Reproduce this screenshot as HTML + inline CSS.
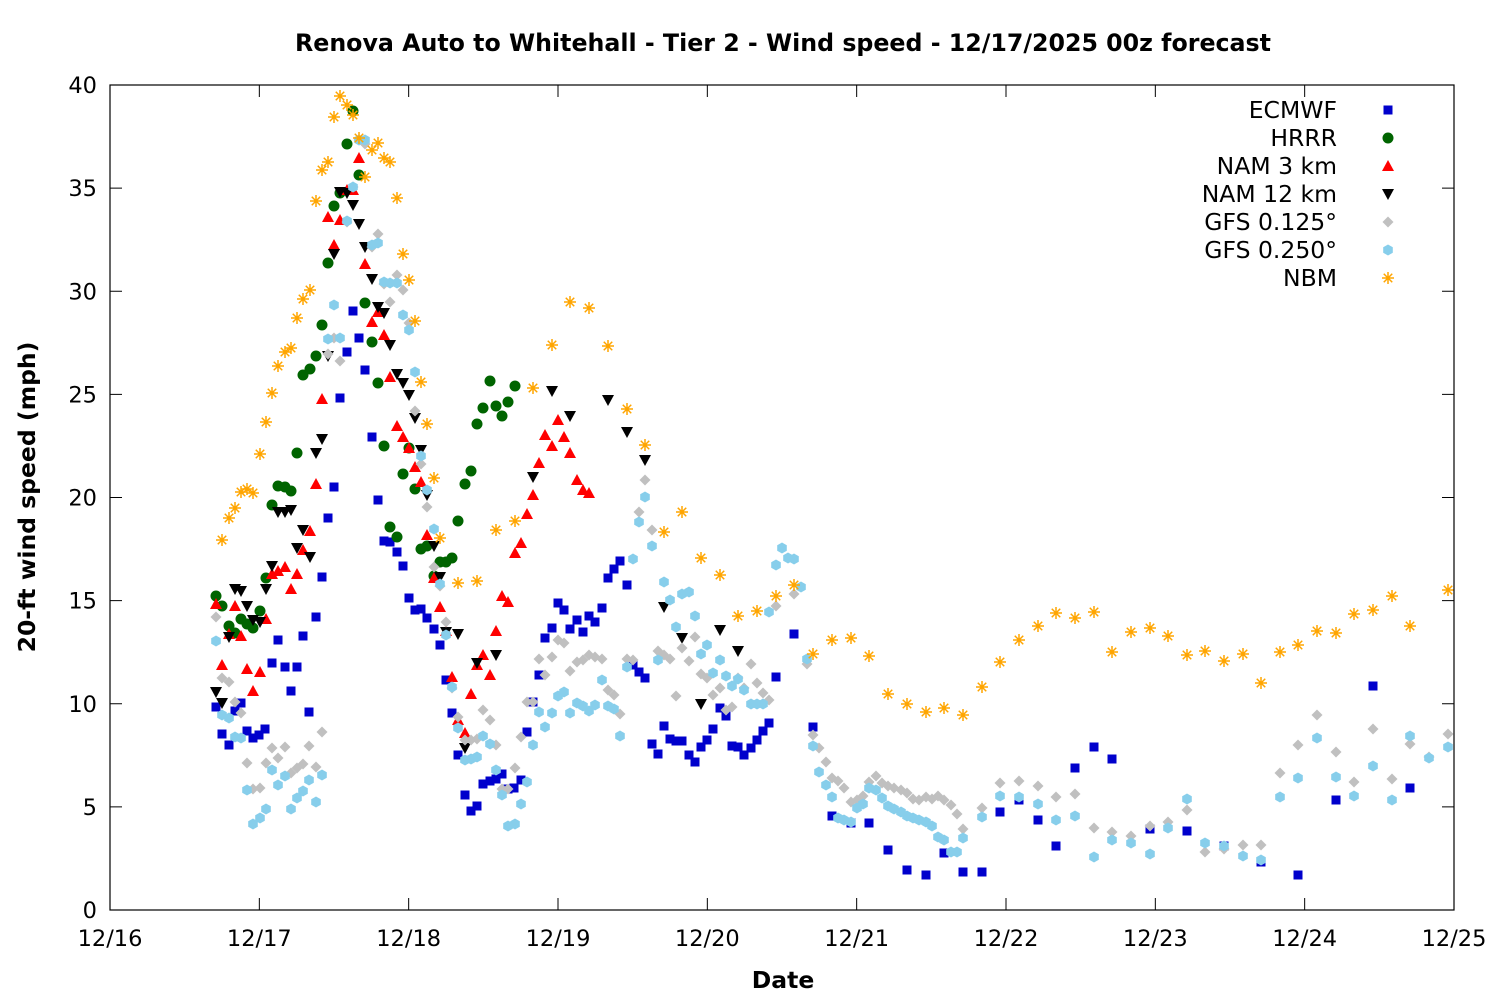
<!DOCTYPE html>
<html><head><meta charset="utf-8"><style>
html,body{margin:0;padding:0;background:#fff;}
svg{display:block;font-family:"DejaVu Sans","Liberation Sans",sans-serif;}
</style></head><body>
<svg id="s" width="1500" height="1000" xmlns="http://www.w3.org/2000/svg">
<rect width="1500" height="1000" fill="#fff"/>
<text x="783" y="51" font-size="23.7" font-weight="bold" text-anchor="middle">Renova Auto to Whitehall - Tier 2 - Wind speed - 12/17/2025 00z forecast</text>
<text x="783" y="988" font-size="23.5" font-weight="bold" text-anchor="middle">Date</text>
<text transform="translate(35,497) rotate(-90)" font-size="23.5" font-weight="bold" text-anchor="middle">20-ft wind speed (mph)</text>
<g id="axes"></g>
<g id="pts"></g>
<rect x="110" y="85" width="1344" height="825" fill="none" stroke="#000" stroke-width="1.2"/>
<g font-size="23.5" text-anchor="end">
<text x="1337" y="118">ECMWF</text>
<text x="1337" y="146">HRRR</text>
<text x="1337" y="174">NAM 3 km</text>
<text x="1337" y="202">NAM 12 km</text>
<text x="1337" y="230">GFS 0.125°</text>
<text x="1337" y="258">GFS 0.250°</text>
<text x="1337" y="286">NBM</text>
</g>
<g id="leg"></g>
</svg>
<script>
var NS="http://www.w3.org/2000/svg";
function el(p,t,a){var e=document.createElementNS(NS,t);for(var k in a)e.setAttribute(k,a[k]);p.appendChild(e);return e;}
var ax=document.getElementById("axes");
for(var i=0;i<=8;i++){var y=910-i*103.125;
 el(ax,"line",{x1:110,y1:y,x2:122,y2:y,stroke:"#000"});el(ax,"line",{x1:1454,y1:y,x2:1442,y2:y,stroke:"#000"});
 var t=el(ax,"text",{x:97,y:y+8,"font-size":22.5,"text-anchor":"end"});t.textContent=i*5;}
var days=["12/16","12/17","12/18","12/19","12/20","12/21","12/22","12/23","12/24","12/25"];
for(var i=0;i<=9;i++){var x=110+i*149.333;
 el(ax,"line",{x1:x,y1:910,x2:x,y2:898,stroke:"#000"});el(ax,"line",{x1:x,y1:85,x2:x,y2:97,stroke:"#000"});
 var t=el(ax,"text",{x:x,y:946,"font-size":22.5,"text-anchor":"middle"});t.textContent=days[i];}
function P(s){var a=s.match(/-?\d+/g).map(Number),r=[];for(var i=0;i<a.length;i+=2)r.push([a[i],a[i+1]]);return r;}
var D={
ec:P("(216,707),(222,734),(229,745),(235,711),(241,703),(247,731),(253,738),(259,735),(265,729),(272,663),(278,640),(285,667),(291,691),(297,667),(303,636),(309,712),(316,617),(322,577),(328,518),(334,487),(340,398),(347,352),(353,311),(359,338),(365,370),(372,437),(378,500),(384,541),(390,542),(397,552),(403,566),(409,598),(415,610),(421,609),(427,618),(434,629),(440,645),(446,680),(452,713),(458,755),(465,795),(471,811),(477,806),(483,784),(490,781),(496,779),(502,774),(508,789),(514,788),(521,780),(527,732),(533,702),(539,675),(545,638),(552,628),(558,603),(564,610),(570,629),(577,620),(583,632),(589,616),(595,622),(602,608),(608,578),(614,569),(620,561),(627,585),(633,665),(639,672),(645,678),(652,744),(658,754),(664,726),(670,739),(676,741),(682,741),(689,755),(695,762),(701,747),(707,740),(713,729),(720,708),(726,716),(732,746),(738,747),(744,755),(751,748),(757,740),(763,731),(769,723),(776,677),(794,634),(813,727),(832,816),(851,823),(869,823),(888,850),(907,870),(926,875),(944,853),(963,872),(982,872),(1000,812),(1019,800),(1038,820),(1056,846),(1075,768),(1094,747),(1112,759),(1150,829),(1187,831),(1224,846),(1261,862),(1298,875),(1336,800),(1373,686),(1410,788)"),
hr:P("(216,596),(222,606),(229,626),(235,633),(241,619),(247,624),(253,628),(260,611),(266,578),(272,505),(278,486),(285,487),(291,491),(297,453),(303,375),(310,369),(316,356),(322,325),(328,263),(334,206),(340,193),(347,144),(353,111),(359,175),(365,303),(372,342),(378,383),(384,446),(390,527),(397,537),(403,474),(409,448),(415,489),(421,549),(427,546),(434,576),(440,562),(446,562),(452,558),(458,521),(465,484),(471,471),(477,424),(483,408),(490,381),(496,406),(502,416),(508,402),(515,386)"),
n3:P("(216,604),(222,665),(229,634),(235,606),(241,636),(247,669),(253,691),(260,672),(266,619),(272,574),(278,571),(285,567),(291,589),(297,574),(303,550),(310,531),(316,484),(322,399),(328,217),(334,245),(340,220),(347,190),(353,190),(359,158),(365,264),(372,322),(378,312),(384,335),(390,377),(397,426),(403,437),(409,448),(415,467),(421,482),(427,535),(434,578),(440,607),(446,631),(452,677),(458,720),(465,733),(471,694),(477,665),(483,655),(490,675),(496,631),(502,596),(508,602),(515,553),(521,543),(527,514),(533,495),(539,463),(545,435),(552,446),(558,420),(564,437),(570,453),(577,480),(583,490),(589,493)"),
n12:P("(216,692),(222,703),(229,637),(235,589),(241,591),(247,606),(253,620),(260,622),(266,589),(272,566),(278,512),(285,512),(291,510),(297,548),(303,530),(310,557),(316,453),(322,439),(328,356),(334,254),(340,192),(347,193),(353,205),(359,224),(365,247),(372,279),(378,307),(384,313),(390,345),(397,374),(403,383),(409,395),(415,418),(421,450),(427,495),(434,546),(440,577),(446,632),(458,634),(465,748),(477,663),(496,655),(533,477),(552,391),(570,416),(608,400),(627,432),(645,460),(664,607),(682,638),(701,704),(720,630),(738,651)"),
g1:P("(216,617),(222,678),(229,682),(235,702),(241,713),(247,763),(253,789),(260,788),(266,763),(272,748),(278,758),(285,747),(291,773),(297,768),(303,764),(309,746),(316,767),(322,732),(328,354),(334,338),(340,361),(347,222),(353,187),(359,140),(365,144),(372,247),(378,234),(384,284),(390,302),(397,275),(403,290),(409,323),(415,411),(421,464),(427,507),(434,567),(440,586),(446,622),(452,688),(458,717),(465,740),(471,740),(477,739),(483,710),(490,720),(496,745),(502,789),(508,789),(515,768),(521,737),(527,702),(533,702),(539,659),(545,675),(552,657),(558,640),(564,643),(570,671),(577,662),(583,660),(589,655),(595,657),(602,659),(608,690),(614,695),(620,714),(627,659),(633,660),(639,512),(645,480),(652,530),(658,651),(664,655),(670,659),(676,696),(682,648),(689,661),(695,637),(701,674),(707,678),(713,695),(720,688),(726,710),(732,707),(738,678),(744,688),(751,664),(757,683),(763,693),(769,700),(776,606),(794,594),(807,664),(813,735),(819,748),(826,762),(832,778),(838,781),(844,788),(851,802),(857,800),(863,796),(869,782),(876,776),(882,783),(888,786),(894,788),(901,790),(907,793),(913,799),(919,800),(926,797),(932,799),(938,796),(944,800),(951,805),(957,814),(963,829),(982,808),(1000,783),(1019,781),(1038,786),(1056,797),(1075,794),(1094,828),(1112,832),(1131,836),(1150,826),(1168,822),(1187,810),(1205,852),(1224,849),(1243,845),(1261,845),(1280,773),(1298,745),(1317,715),(1336,752),(1354,782),(1373,729),(1392,779),(1410,744),(1429,757),(1448,734)"),
g2:P("(216,641),(222,715),(229,718),(235,737),(241,738),(247,790),(253,824),(260,818),(266,809),(272,770),(278,785),(285,776),(291,809),(297,798),(303,791),(309,780),(316,802),(322,775),(328,339),(334,305),(340,338),(347,221),(353,187),(359,140),(365,140),(372,245),(378,243),(384,282),(390,283),(397,283),(403,315),(409,330),(415,372),(421,456),(427,490),(434,529),(440,584),(446,635),(452,687),(458,728),(465,760),(471,759),(477,757),(483,736),(490,744),(496,770),(502,795),(508,826),(515,824),(521,804),(527,782),(533,745),(539,712),(545,727),(552,713),(558,696),(564,692),(570,713),(577,703),(583,706),(589,711),(595,705),(602,680),(608,706),(614,709),(620,736),(627,667),(633,559),(639,522),(645,497),(652,546),(658,660),(664,582),(670,600),(676,627),(682,594),(689,592),(695,616),(701,654),(707,645),(713,673),(720,660),(726,676),(732,686),(738,679),(744,690),(751,704),(757,704),(763,704),(769,612),(776,565),(782,548),(788,558),(794,559),(801,587),(807,659),(813,746),(819,772),(826,785),(832,797),(838,818),(844,820),(851,822),(857,808),(863,804),(869,788),(876,790),(882,798),(888,806),(894,809),(901,812),(907,816),(913,818),(919,820),(926,822),(932,826),(938,837),(944,840),(951,852),(957,852),(963,838),(982,817),(1000,796),(1019,797),(1038,804),(1056,820),(1075,816),(1094,857),(1112,840),(1131,843),(1150,854),(1168,828),(1187,799),(1205,843),(1224,846),(1243,856),(1261,860),(1280,797),(1298,778),(1317,738),(1336,777),(1354,796),(1373,766),(1392,800),(1410,736),(1429,758),(1448,747)"),
nb:P("(222,540),(229,518),(235,508),(241,492),(247,489),(253,493),(260,454),(266,422),(272,393),(278,366),(285,352),(291,348),(297,318),(303,299),(310,290),(316,201),(322,170),(328,162),(334,117),(340,96),(347,105),(353,115),(359,138),(365,177),(372,150),(378,143),(384,158),(390,162),(397,198),(403,254),(409,280),(415,321),(421,382),(427,424),(434,478),(440,538),(458,583),(477,581),(496,530),(515,521),(533,388),(552,345),(570,302),(589,308),(608,346),(627,409),(645,445),(664,532),(682,512),(701,558),(720,575),(738,616),(757,611),(776,596),(794,585),(813,654),(832,640),(851,638),(869,656),(888,694),(907,704),(926,712),(944,708),(963,715),(982,687),(1000,662),(1019,640),(1038,626),(1056,613),(1075,618),(1094,612),(1112,652),(1131,632),(1150,628),(1168,636),(1187,655),(1205,651),(1224,661),(1243,654),(1261,683),(1280,652),(1298,645),(1317,631),(1336,633),(1354,614),(1373,610),(1392,596),(1410,626),(1448,590)")
};
function mk(g,type,x,y){
 if(type=="ec")el(g,"rect",{x:x-4.5,y:y-4.5,width:9,height:9,fill:"#0000cc"});
 else if(type=="hr")el(g,"circle",{cx:x,cy:y,r:5.5,fill:"#006400"});
 else if(type=="n3")el(g,"polygon",{points:(x-6)+","+(y+5)+" "+(x+6)+","+(y+5)+" "+x+","+(y-6),fill:"#ff0000"});
 else if(type=="n12")el(g,"polygon",{points:(x-6)+","+(y-5)+" "+(x+6)+","+(y-5)+" "+x+","+(y+6),fill:"#000"});
 else if(type=="g1")el(g,"polygon",{points:x+","+(y-5.5)+" "+(x+5.5)+","+y+" "+x+","+(y+5.5)+" "+(x-5.5)+","+y,fill:"#c0c0c0"});
 else if(type=="g2"){var p=[];for(var k=0;k<6;k++){var a=Math.PI/3*k-Math.PI/2;p.push((x+5.5*Math.cos(a)).toFixed(1)+","+(y+5.5*Math.sin(a)).toFixed(1));}el(g,"polygon",{points:p.join(" "),fill:"#87ceeb"});}
 else if(type=="nb"){var d="";for(var k=0;k<4;k++){var a=Math.PI/4*k;var c=6*Math.cos(a),s=6*Math.sin(a);d+="M"+(x-c)+" "+(y-s)+"L"+(x+c)+" "+(y+s);}el(g,"path",{d:d,stroke:"#ffa500","stroke-width":1.5,fill:"none"});}
}
var g=document.getElementById("pts");
["ec","hr","n3","n12","g1","g2","nb"].forEach(function(k,i){D[k].forEach(function(p){mk(g,k,p[0],p[1]);});mk(document.getElementById("leg"),k,1388,110+i*28);});
</script>
</body></html>
